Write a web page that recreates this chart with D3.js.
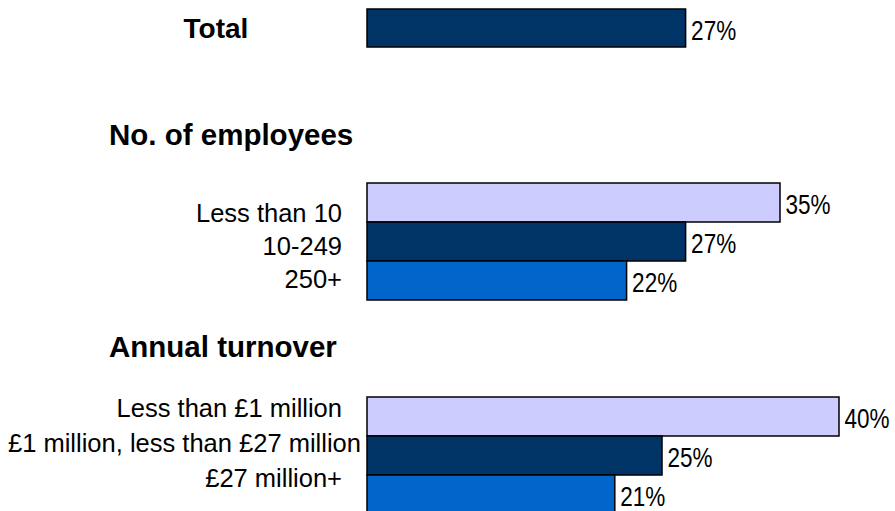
<!DOCTYPE html>
<html>
<head>
<meta charset="utf-8">
<script src="https://cdn.jsdelivr.net/npm/d3@7"></script>
<style>
  html, body { margin: 0; padding: 0; background: #fff; }
  svg { display: block; }
</style>
</head>
<body>
<svg id="chart" width="895" height="511"></svg>
<script>
// ---- Data ----
const totalCategories = ["Total"];
const totalValues = [27];

const employeeTitle = "No. of employees";
const employeeCategories = ["Less than 10", "10-249", "250+"];
const employeeValues = [35, 27, 22];

const turnoverTitle = "Annual turnover";
const turnoverCategories = ["Less than £1 million", "£1 million, less than £27 million", "£27 million+"];
const turnoverValues = [40, 25, 21];

// ---- Styling ----
const palette = ["#CCCCFF", "#003366", "#0066CC"];
const totalColour = "#003366";
const labelFont = "'Liberation Sans', Arial, Helvetica, sans-serif";
const narrowFont = "'Liberation Sans Narrow', 'Arial Narrow', sans-serif";

const svg = d3.select("#chart");

// shared value axis (hidden) for all bars
const x = d3.scaleLinear().domain([0, 40]).range([367, 839]);

// does the narrow face exist? if not, squeeze the regular face instead
const probe = svg.append("text").attr("font-family", narrowFont).attr("font-size", 100).text("35%");
const probeWide = svg.append("text").attr("font-family", labelFont).attr("font-size", 100).text("35%");
const narrowOk = probe.node().getComputedTextLength() < 0.9 * probeWide.node().getComputedTextLength();
probe.remove(); probeWide.remove();

function valueLabel(g, px, py, text) {
  const t = g.append("text")
    .attr("font-size", 27.5)
    .attr("fill", "#000")
    .text(text);
  if (narrowOk) {
    t.attr("font-family", narrowFont).attr("x", px).attr("y", py);
  } else {
    t.attr("font-family", labelFont)
      .attr("transform", `translate(${px},${py}) scale(0.82,1)`);
  }
}

function drawBars(cats, vals, yRange, colours) {
  const y = d3.scaleBand().domain(cats).range(yRange).padding(0);
  const g = svg.append("g");
  g.selectAll("rect")
    .data(cats)
    .join("rect")
    .attr("x", x(0))
    .attr("y", d => y(d))
    .attr("width", (d, i) => x(vals[i]) - x(0))
    .attr("height", y.bandwidth())
    .attr("fill", (d, i) => colours[i % colours.length])
    .attr("stroke", "#000")
    .attr("stroke-width", 1.5);
  cats.forEach((c, i) => {
    valueLabel(g, x(vals[i]) + 5.5, y(c) + y.bandwidth() / 2 + 11.5, vals[i] + "%");
  });
  return y;
}

function drawCategoryLabels(cats, baselineRange) {
  const ly = d3.scalePoint().domain(cats).range(baselineRange);
  const g = svg.append("g")
    .attr("font-family", labelFont)
    .attr("font-size", 25.5)
    .attr("fill", "#000");
  cats.forEach(c => {
    const t = g.append("text")
      .attr("x", 342)
      .attr("y", ly(c))
      .attr("text-anchor", "end")
      .text(c);
    // keep long labels inside the left edge
    const w = t.node().getComputedTextLength();
    if (342 - w < 8) t.attr("text-anchor", "start").attr("x", 8);
  });
}

function heading(text, px, py, size, anchor) {
  svg.append("text")
    .attr("x", px)
    .attr("y", py)
    .attr("text-anchor", anchor)
    .attr("font-family", labelFont)
    .attr("font-weight", "bold")
    .attr("font-size", size)
    .attr("fill", "#000")
    .text(text);
}

// Total
drawBars(totalCategories, totalValues, [9, 47], [totalColour]);
heading(totalCategories[0], 216, 37.5, 28, "middle");

// Number of employees
heading(employeeTitle, 109, 145, 29.5, "start");
drawBars(employeeCategories, employeeValues, [183, 300], palette);
drawCategoryLabels(employeeCategories, [222, 288]);

// Annual turnover
heading(turnoverTitle, 109, 357, 29.5, "start");
drawBars(turnoverCategories, turnoverValues, [397, 514], palette);
drawCategoryLabels(turnoverCategories, [417, 487]);
</script>
</body>
</html>
